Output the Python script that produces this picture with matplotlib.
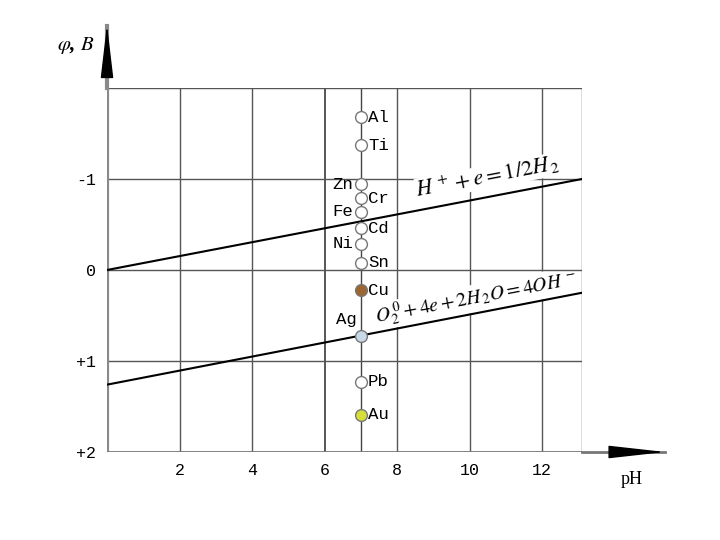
import matplotlib.pyplot as plt
import numpy as np

plt.rcParams['mathtext.fontset'] = 'stix'

# --- dannye ---
ph_edges = [0, 13.1]
h_line = [0.0, -1.0]        # H+ + e = 1/2 H2
o2_line = [1.26, 0.25]      # O2 + 4e + 2H2O = 4OH-

metals = ['Al', 'Ti', 'Zn', 'Cr', 'Fe', 'Cd', 'Ni', 'Sn', 'Cu', 'Ag', 'Pb', 'Au']
potentials = [-1.68, -1.37, -0.94, -0.79, -0.64, -0.46, -0.29, -0.08, 0.22, 0.73, 1.23, 1.59]
label_side = ['r', 'r', 'l', 'r', 'l', 'r', 'l', 'r', 'r', 'l', 'r', 'r']
face = ['white'] * 8 + ['#9b6630', '#c9d9ea', 'white', '#d6df3a']
ph_metals = 7

xticks = [2, 4, 6, 8, 10, 12]
yticks = [-1, 0, 1, 2]
ylabels = ['-1', '0', '+1', '+2']

# --- figura ---
fig = plt.figure(figsize=(7.2, 5.4), dpi=100)
ax = fig.add_axes([107/720, 1 - 452/540, (582 - 107)/720, (452 - 88)/540])
ax.set_xlim(ph_edges[0], ph_edges[1])
ax.set_ylim(2, -2)
for s in ax.spines.values():
    s.set_visible(False)

# setka
for xv in [2, 4, 6, 8, 10, 12]:
    ax.axvline(xv, color='#555555', lw=1.0 if xv != 6 else 1.4, zorder=1)
ax.axvline(13.1, color='#555555', lw=1.0, zorder=4.5)
ax.axvline(ph_metals, color='#444444', lw=1.0, zorder=1)
for yv in [-2, -1, 1]:
    ax.axhline(yv, color='#555555', lw=1.0, zorder=1)
ax.axhline(0, color='#555555', lw=1.0, zorder=4.5)
# osi
ax.axvline(0, color='#8a8a8a', lw=3, zorder=2)
ax.axhline(2, color='#777777', lw=2, zorder=2)

# strelki osej
ax.plot([0, 0], [-2, -2.68], color='#8a8a8a', lw=3, clip_on=False, zorder=2)
ax.annotate('', xy=(0, -2.7), xytext=(0, -2.15), xycoords='data',
            arrowprops=dict(arrowstyle='-|>,head_length=3.4,head_width=0.4',
                            color='black', lw=1, mutation_scale=10, shrinkA=0, shrinkB=0),
            annotation_clip=False)
ax.plot([13.1, 15.4], [2, 2], color='#777777', lw=2, clip_on=False, zorder=2)
ax.annotate('', xy=(15.4, 2), xytext=(14.0, 2), xycoords='data',
            arrowprops=dict(arrowstyle='-|>,head_length=3.6,head_width=0.4',
                            color='black', lw=1, mutation_scale=10, shrinkA=0, shrinkB=0),
            annotation_clip=False)

# linii vody
ax.plot(ph_edges, h_line, color='black', lw=1.5, zorder=5)
ax.plot(ph_edges, o2_line, color='black', lw=1.5, zorder=5)

box = dict(facecolor='white', edgecolor='none', pad=0)
ax.text(8.55, -0.80, r'$H^{\,+} + e = 1/2H_{\,2}$', fontsize=16, rotation=10.8,
        rotation_mode='anchor', ha='left', va='baseline', zorder=4, bbox=box)
ax.text(7.42, 0.58, r'$O_{\,2}^{\,0} + 4e + 2H_{\,2}O = 4OH^{\,-}$', fontsize=14.2,
        rotation=10.8, rotation_mode='anchor', ha='left', va='baseline', zorder=4, bbox=box)

# metally
for name, p, side, fc in zip(metals, potentials, label_side, face):
    ax.plot(ph_metals, p, 'o', ms=8.5, mfc=fc, mec='#777777', mew=1, zorder=6)
    if side == 'r':
        ax.text(ph_metals + 0.2, p, name, fontsize=12.5, family='Liberation Mono',
                ha='left', va='center', zorder=6)
    elif name == 'Ag':
        ax.text(ph_metals - 0.12, p - 0.1, name, fontsize=12.5, family='Liberation Mono',
                ha='right', va='bottom', zorder=6)
    else:
        ax.text(ph_metals - 0.2, p, name, fontsize=12.5, family='Liberation Mono',
                ha='right', va='center', zorder=6)

# podpisi osej
ax.set_xticks(xticks)
ax.set_xticklabels([str(t) for t in xticks], family='Liberation Mono', fontsize=12)
ax.set_yticks(yticks)
ax.set_yticklabels(ylabels, family='Liberation Mono', fontsize=12)
ax.tick_params(length=0, pad=8)
ax.grid(False)

fig.text(76/720, 1 - 46/540, r'$\varphi$, $B$', fontsize=15, ha='center', va='center',
         family='Liberation Serif', fontweight='bold', style='italic')
fig.text(632/720, 1 - 480/540, 'pH', fontsize=13, ha='center', va='center',
         family='Liberation Serif')

fig.savefig('out.png', dpi=100)
